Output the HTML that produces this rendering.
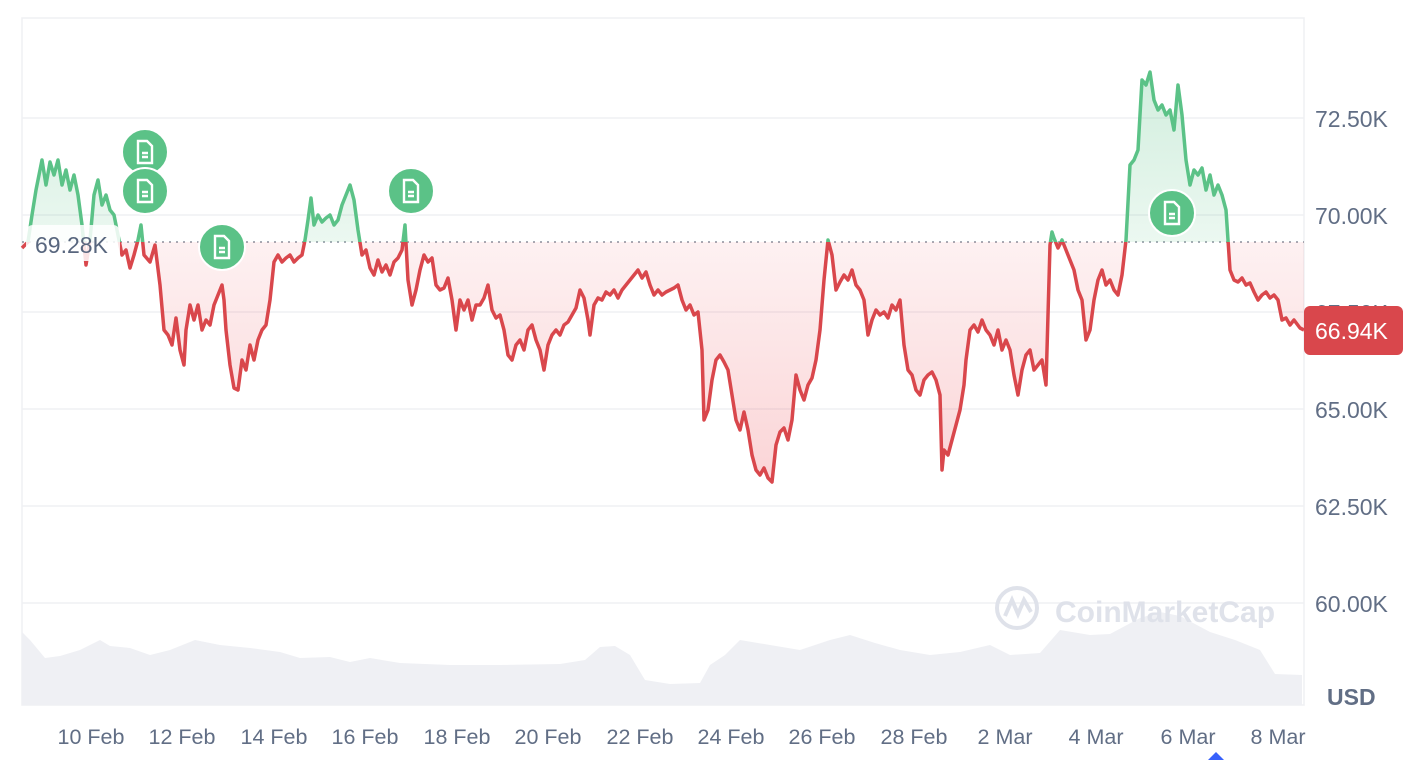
<!DOCTYPE html>
<html><head><meta charset="utf-8"><style>
body{margin:0;background:#fff;width:1424px;height:760px;overflow:hidden;font-family:"Liberation Sans",sans-serif}
</style></head><body>
<svg width="1424" height="760" xmlns="http://www.w3.org/2000/svg" font-family="Liberation Sans, sans-serif">
<defs>
<linearGradient id="gg" x1="0" y1="70" x2="0" y2="242" gradientUnits="userSpaceOnUse"><stop offset="0" stop-color="#5bc287" stop-opacity="0.28"/><stop offset="1" stop-color="#5bc287" stop-opacity="0.12"/></linearGradient>
<linearGradient id="rg" x1="0" y1="242" x2="0" y2="490" gradientUnits="userSpaceOnUse"><stop offset="0" stop-color="#ea3943" stop-opacity="0.07"/><stop offset="1" stop-color="#ea3943" stop-opacity="0.22"/></linearGradient>
<clipPath id="ca"><rect x="0" y="0" width="1424" height="242"/></clipPath>
<clipPath id="cb"><rect x="0" y="242" width="1424" height="518"/></clipPath>
</defs>
<rect x="22" y="18" width="1282" height="687" fill="none" stroke="#eff0f3" stroke-width="1.5"/>
<g stroke="#eff0f3" stroke-width="1.5">
<line x1="22" y1="118" x2="1304" y2="118"/><line x1="22" y1="215" x2="1304" y2="215"/><line x1="22" y1="312" x2="1304" y2="312"/><line x1="22" y1="409" x2="1304" y2="409"/><line x1="22" y1="506" x2="1304" y2="506"/><line x1="22" y1="603" x2="1304" y2="603"/>
</g>
<polygon fill="#eff0f4" points="22,705 22,632 30,640 45,658 60,656 80,650 100,640 110,646 130,648 150,655 170,650 195,640 220,645 250,648 280,652 300,658 330,657 350,662 370,658 400,663 450,665 500,665 560,664 585,660 600,647 615,646 630,655 645,680 670,684 700,683 710,665 725,655 740,640 770,645 800,650 830,640 850,635 875,643 900,650 930,655 960,652 990,645 1010,655 1040,653 1060,630 1090,635 1110,634 1140,618 1160,612 1180,616 1210,632 1235,640 1260,650 1275,674 1302,675 1302,705"/>
<g font-weight="bold" fill="#dfe2ea"><circle cx="1017" cy="608" r="20" fill="none" stroke="#dfe2ea" stroke-width="4"/><path d="M1005,616 L1012,600 L1018,614 L1024,600 L1031,612" fill="none" stroke="#dfe2ea" stroke-width="4"/><text x="1055" y="622" font-size="30">CoinMarketCap</text></g>
<line x1="22" y1="242" x2="1304" y2="242" stroke="#8a919e" stroke-width="1.5" stroke-dasharray="2,5"/>
<g id="pts"></g>
<script>
var p="22,248 28,242 32,215 36,190 40,170 42,160 46,185 50,162 54,175 58,160 62,185 66,170 70,190 74,175 78,195 82,225 86,265 90,240 94,195 98,180 102,205 106,195 110,210 114,215 118,235 122,255 126,250 130,268 134,255 138,240 141,225 144,255 150,262 155,245 160,285 164,330 168,335 172,345 176,318 180,350 184,365 186,330 190,305 194,320 198,305 202,330 206,320 210,325 214,305 218,295 222,285 224,300 226,330 230,365 234,388 238,390 242,360 246,370 250,345 254,360 258,340 262,330 266,325 270,300 274,262 278,255 282,262 286,258 290,255 294,262 298,258 302,255 305,240 308,220 311,198 314,225 318,215 322,222 326,218 330,215 334,225 338,220 342,205 346,195 350,185 354,200 358,230 362,255 366,250 370,268 374,275 378,260 382,272 386,265 390,275 394,262 398,258 402,250 405,225 408,280 412,305 416,290 420,270 424,255 428,262 432,258 436,285 440,290 444,288 448,278 452,300 456,330 460,300 464,310 468,300 472,320 476,305 480,305 484,298 488,285 492,310 496,318 500,315 504,330 508,355 512,360 516,345 520,340 524,350 528,330 532,325 536,340 540,350 544,370 548,345 552,335 556,330 560,335 564,325 568,322 572,315 576,308 580,290 584,298 588,320 590,335 594,305 598,298 602,300 606,292 610,295 614,290 618,298 622,290 626,285 630,280 634,275 638,270 642,278 646,272 650,285 654,295 658,290 662,295 666,292 670,290 674,288 678,285 682,300 686,310 690,305 694,315 698,312 702,350 704,420 708,410 712,380 716,360 720,355 724,362 728,370 732,395 736,420 740,430 744,412 748,430 752,455 756,470 760,475 764,468 768,478 772,482 776,445 780,432 784,428 788,440 792,420 796,375 800,390 804,400 808,385 812,378 816,360 820,330 824,280 828,240 832,255 836,290 840,282 844,275 848,280 852,270 856,285 860,290 864,300 868,335 872,320 876,310 880,315 884,312 888,318 892,305 896,310 900,300 904,345 908,370 912,375 916,390 920,395 924,380 928,375 932,372 936,380 940,395 942,470 944,450 948,455 952,440 956,425 960,410 964,385 966,360 970,330 974,325 978,332 982,320 986,330 990,335 994,345 998,330 1002,350 1006,340 1010,350 1014,375 1018,395 1022,370 1026,355 1030,350 1034,370 1038,365 1042,360 1046,385 1050,245 1052,232 1054,238 1058,248 1062,240 1066,250 1070,260 1074,270 1078,290 1082,300 1086,340 1090,330 1094,300 1098,280 1102,270 1106,285 1110,280 1114,290 1118,295 1122,275 1126,240 1130,165 1134,160 1138,150 1142,80 1146,85 1150,72 1154,100 1158,110 1162,105 1166,115 1170,110 1174,130 1178,85 1182,115 1186,160 1190,185 1194,170 1198,175 1202,168 1206,190 1210,175 1214,195 1218,185 1222,195 1226,210 1230,270 1234,280 1238,282 1242,278 1246,285 1250,283 1254,292 1258,300 1262,295 1266,292 1270,298 1274,295 1278,300 1282,320 1286,318 1290,325 1294,320 1300,328 1304,330";
var ns="http://www.w3.org/2000/svg",g=document.getElementById("pts");
function mk(t,a){var e=document.createElementNS(ns,t);for(var k in a)e.setAttribute(k,a[k]);g.appendChild(e);return e;}
var area="22,242 "+p+" 1304,242";
mk("polygon",{points:area,fill:"url(#gg)","clip-path":"url(#ca)"});
mk("polygon",{points:area,fill:"url(#rg)","clip-path":"url(#cb)"});
mk("polyline",{points:p,fill:"none",stroke:"#5bc287","stroke-width":"3.5","stroke-linejoin":"round","clip-path":"url(#ca)"});
mk("polyline",{points:p,fill:"none",stroke:"#d9474c","stroke-width":"3.5","stroke-linejoin":"round","clip-path":"url(#cb)"});
</script>
<rect x="26" y="225" width="94" height="36" rx="7" fill="#fff" fill-opacity="0.85"/>
<text x="35" y="253" font-size="23" fill="#58667e">69.28K</text>
<g>
<g transform="translate(145,152)"><circle r="23" fill="#5bc287" stroke="#fff" stroke-width="2"/><path d="M-7,-11 h9 l5,5 v17 h-14z M-3,1 h6 M-3,5 h6" fill="none" stroke="#fff" stroke-width="2.4"/></g>
<g transform="translate(145,191)"><circle r="23" fill="#5bc287" stroke="#fff" stroke-width="2"/><path d="M-7,-11 h9 l5,5 v17 h-14z M-3,1 h6 M-3,5 h6" fill="none" stroke="#fff" stroke-width="2.4"/></g>
<g transform="translate(222,247)"><circle r="23" fill="#5bc287" stroke="#fff" stroke-width="2"/><path d="M-7,-11 h9 l5,5 v17 h-14z M-3,1 h6 M-3,5 h6" fill="none" stroke="#fff" stroke-width="2.4"/></g>
<g transform="translate(411,191)"><circle r="23" fill="#5bc287" stroke="#fff" stroke-width="2"/><path d="M-7,-11 h9 l5,5 v17 h-14z M-3,1 h6 M-3,5 h6" fill="none" stroke="#fff" stroke-width="2.4"/></g>
<g transform="translate(1172,213)"><circle r="23" fill="#5bc287" stroke="#fff" stroke-width="2"/><path d="M-7,-11 h9 l5,5 v17 h-14z M-3,1 h6 M-3,5 h6" fill="none" stroke="#fff" stroke-width="2.4"/></g>
</g>
<g font-size="23" fill="#616e85">
<text x="1315" y="127">72.50K</text><text x="1315" y="224">70.00K</text><text x="1315" y="321">67.50K</text><text x="1315" y="418">65.00K</text><text x="1315" y="515">62.50K</text><text x="1315" y="612">60.00K</text>
</g>
<rect x="1304" y="306" width="99" height="49" rx="6" fill="#d9474c"/>
<text x="1315" y="339" font-size="23" fill="#fff">66.94K</text>
<text x="1327" y="705" font-size="23" font-weight="bold" fill="#616e85">USD</text>
<g font-size="21.5" fill="#616e85" text-anchor="middle">
<text x="91" y="744">10 Feb</text><text x="182" y="744">12 Feb</text><text x="274" y="744">14 Feb</text><text x="365" y="744">16 Feb</text><text x="457" y="744">18 Feb</text><text x="548" y="744">20 Feb</text><text x="640" y="744">22 Feb</text><text x="731" y="744">24 Feb</text><text x="822" y="744">26 Feb</text><text x="914" y="744">28 Feb</text><text x="1005" y="744">2 Mar</text><text x="1096" y="744">4 Mar</text><text x="1188" y="744">6 Mar</text><text x="1278" y="744">8 Mar</text>
</g>
<polygon points="1208,760 1216,752 1224,760" fill="#3861fb"/>
</svg>
</body></html>
